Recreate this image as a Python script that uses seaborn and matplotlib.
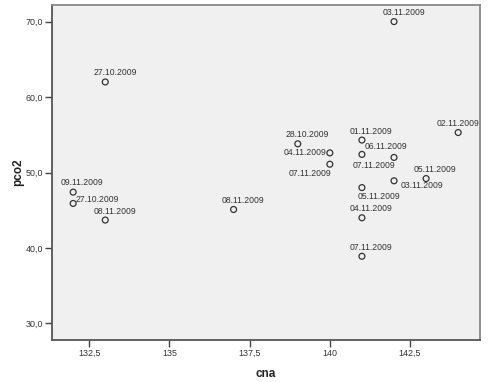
import matplotlib
matplotlib.use("Agg")
import matplotlib.pyplot as plt
import matplotlib.ticker as mticker
import pandas as pd
import seaborn as sns

# values
cna = [133, 132, 132, 133, 137, 142, 139, 140, 140, 141, 141, 142, 143, 142, 144, 141, 141, 141]
pco2 = [62.0, 47.4, 45.9, 43.7, 45.1, 70.0, 53.8, 52.6, 51.1, 54.3, 52.4, 52.0, 49.2, 48.9, 55.3, 48.0, 44.0, 38.9]
dates = ["27.10.2009", "09.11.2009", "27.10.2009", "08.11.2009", "08.11.2009",
         "03.11.2009", "28.10.2009", "04.11.2009", "07.11.2009", "01.11.2009",
         "06.11.2009", "07.11.2009", "05.11.2009", "03.11.2009", "02.11.2009",
         "05.11.2009", "04.11.2009", "07.11.2009"]
x_ticks = [132.5, 135, 137.5, 140, 142.5]
y_ticks = [30, 40, 50, 60, 70]

# label placement (pixel offsets from the point, y up)
label_offsets = [(10, 9), (9, 10), (24, 4), (10, 9), (9, 9), (10, 9), (9, 9),
                 (-25, 0), (-20, -9), (9, 9), (24, 8), (-20, -8), (9, 9),
                 (28, -5), (0, 9), (17, -9), (9, 9), (9, 9)]

df = pd.DataFrame({"cna": cna, "pco2": pco2, "date": dates})

sns.set_style("white")
plt.rcParams["font.family"] = ["Liberation Sans", "DejaVu Sans"]

fig = plt.figure(figsize=(4.9, 3.82), dpi=100)
ax = fig.add_axes([0.1061, 0.1099, 0.8735, 0.877])
ax.set_facecolor("#f0f0f0")

sns.scatterplot(data=df, x="cna", y="pco2", ax=ax, marker="o", s=18,
                facecolors="none", edgecolor="#333333", linewidth=0.9)
ax.collections[0].set_facecolor("none")

for (xv, yv, txt), (dx, dy) in zip(zip(cna, pco2, dates), label_offsets):
    ax.annotate(txt, (xv, yv), xytext=(dx, dy), textcoords="offset pixels",
                ha="center", va="center", fontsize=6.2, color="#333333")

ax.set_xlim(131.34, 144.68)
ax.set_ylim(27.8, 72.2)
ax.set_xticks(x_ticks)
ax.set_yticks(y_ticks)
ax.xaxis.set_major_formatter(mticker.FuncFormatter(lambda v, p: f"{v:g}".replace(".", ",")))
ax.yaxis.set_major_formatter(mticker.FuncFormatter(lambda v, p: f"{v:.1f}".replace(".", ",")))
ax.tick_params(axis="both", direction="out", length=5, width=1, color="#444444",
               labelsize=6.4, labelcolor="#333333", pad=1.5, bottom=True, left=True)

for side, spine in ax.spines.items():
    spine.set_visible(True)
    spine.set_color("#555555" if side in ("left", "bottom") else "#888888")
    spine.set_linewidth(1.3)

ax.set_xlabel("cna", fontsize=8.5, fontweight="bold", color="#222222", labelpad=7)
ax.set_ylabel("pco2", fontsize=8.5, fontweight="bold", color="#222222", labelpad=1)

fig.savefig("out.png", dpi=100)
